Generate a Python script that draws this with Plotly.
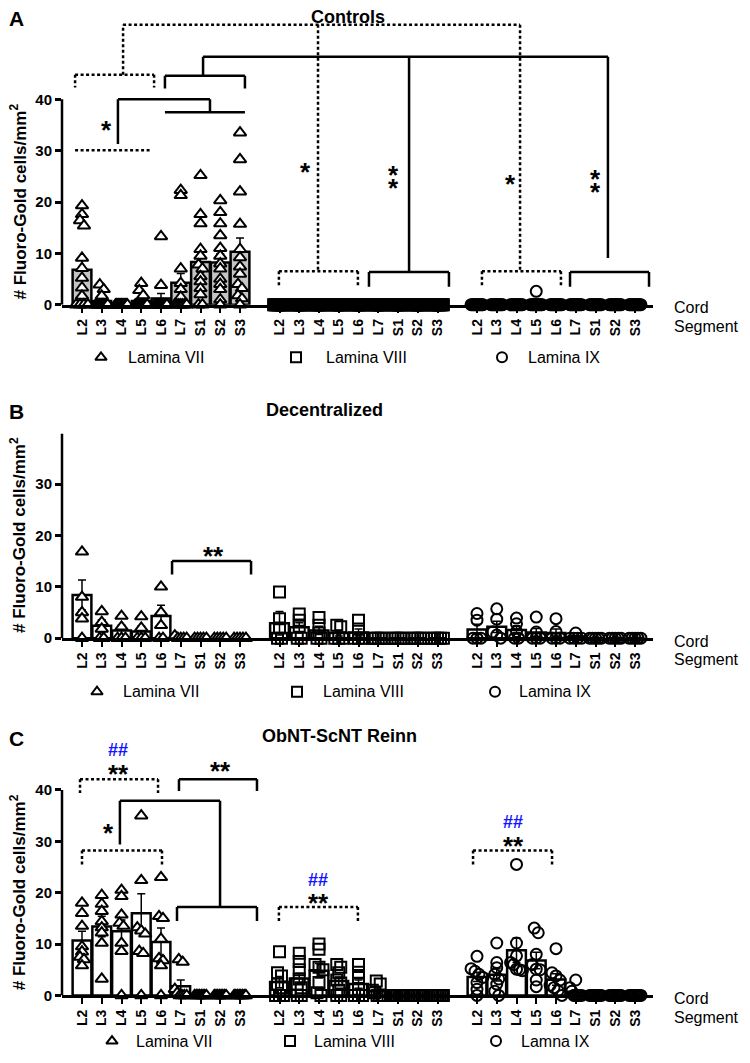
import plotly.graph_objects as go

segments = ["L2", "L3", "L4", "L5", "L6", "L7", "S1", "S2", "S3"]

# ---- Controls (n per segment; lists hold the non-zero observations) ----
ctrl_n = 13
ctrl_vii_pts = [[19.3, 17.6, 16.4, 15.4, 9.1, 7.1, 5.2, 3.3, 1.7], [3.9, 3.0, 1.7], [], [4.2, 2.8, 1.8],
                [13.3, 3.8], [22.3, 21.3, 7.0, 4.2, 3.0, 1.5],
                [25.2, 17.6, 15.8, 10.8, 9.5, 7.8, 7.0, 5.5, 4.5, 3.2, 2.0],
                [20.3, 18.0, 15.8, 13.5, 11.0, 9.5, 8.0, 7.0, 5.0, 4.0, 3.0, 1.0],
                [33.5, 28.3, 22.0, 15.7, 10.8, 9.2, 7.4, 6.0, 4.0, 3.2, 1.8, 1.2]]
ctrl_viii_pts = [[], [], [], [], [], [], [], [], []]
ctrl_ix_pts = [[], [], [], [2.6], [], [], [], [], []]
ctrl_vii_mean = [6.8, 0.7, 0.0, 0.7, 1.2, 4.3, 8.3, 8.2, 10.3]
ctrl_vii_sem = [1.9, 0.4, 0.0, 0.4, 1.0, 1.8, 2.0, 1.7, 2.7]
ctrl_viii_mean = [0, 0, 0, 0, 0, 0, 0, 0, 0]
ctrl_viii_sem = [0, 0, 0, 0, 0, 0, 0, 0, 0]
ctrl_ix_mean = [0, 0, 0, 0.2, 0, 0, 0, 0, 0]
ctrl_ix_sem = [0, 0, 0, 0.2, 0, 0, 0, 0, 0]

# ---- Decentralized ----
dec_n = 5
dec_vii_pts = [[16.8, 8.0, 5.0, 3.8], [5.2, 3.1, 1.8], [4.3, 2.2], [4.2, 2.0], [10.0, 5.0, 2.5],
               [0.5], [], [], []]
dec_viii_pts = [[9.0, 3.8, 2.0], [4.7, 3.5, 2.3], [4.0, 2.5, 1.0], [2.5, 2.2], [3.5, 1.8],
                [], [], [], []]
dec_ix_pts = [[4.8, 3.5], [5.7, 3.7, 1.2, 0.6], [3.9, 2.8, 1.3], [4.1, 1.2], [3.8, 1.3],
              [1.0], [], [], []]
dec_vii_mean = [8.4, 2.4, 1.5, 1.3, 4.3, 0.15, 0, 0, 0]
dec_vii_sem = [2.9, 1.2, 1.0, 1.0, 2.1, 0.15, 0, 0, 0]
dec_viii_mean = [2.9, 2.1, 1.5, 1.0, 1.1, 0, 0, 0, 0]
dec_viii_sem = [2.3, 0.9, 0.8, 0.6, 0.7, 0, 0, 0, 0]
dec_ix_mean = [1.7, 2.2, 1.6, 1.1, 1.0, 0.2, 0, 0, 0]
dec_ix_sem = [1.0, 1.1, 0.8, 0.8, 0.8, 0.2, 0, 0, 0]

# ---- ObNT-ScNT Reinn ----
rein_n = 8
rein_vii_pts = [[18.0, 16.0, 13.5, 9.5, 8.5, 7.5, 7.0, 5.8], [19.5, 17.8, 16.4, 14.4, 13.2, 12.2, 10.2, 3.2],
                [20.5, 19.3, 15.7, 14.1, 13.5, 10.2, 8.6], [35.0, 22.4, 13.2, 12.6, 12.0, 8.6, 8.2],
                [23.0, 15.4, 15.0, 11.0, 7.2, 6.8, 5.8], [7.0, 6.5, 1.2, 0.5], [], [], []]
rein_viii_pts = [[8.5, 4.4, 3.8, 2.2, 1.5], [8.2, 6.6, 5.0, 3.2, 2.2, 1.5],
                 [10.0, 9.0, 6.0, 5.5, 5.0, 2.5, 0.5], [6.0, 5.5, 4.4, 3.0, 2.4, 1.0],
                 [6.0, 4.5, 3.5, 2.2, 1.2], [2.8, 2.2, 1.0, 0.5], [], [], []]
rein_ix_pts = [[7.6, 5.2, 4.7, 4.1, 3.5, 2.5, 1.2], [10.2, 6.4, 5.4, 4.1, 3.2, 2.2, 0.8],
               [25.5, 10.2, 7.7, 6.4, 6.0, 5.1, 5.0, 4.8], [13.1, 12.2, 8.0, 6.0, 5.1, 5.0, 3.0, 1.7],
               [9.1, 4.4, 3.8, 3.0, 2.0, 1.5, 0.9], [3.0, 1.5, 0.8], [], [], []]
rein_vii_mean = [10.7, 13.4, 12.5, 16.0, 10.4, 1.8, 0, 0, 0]
rein_vii_sem = [1.8, 2.0, 2.2, 3.8, 2.7, 1.2, 0, 0, 0]
rein_viii_mean = [2.6, 3.3, 4.8, 2.8, 2.2, 0.8, 0, 0, 0]
rein_viii_sem = [1.1, 1.0, 1.4, 0.8, 0.8, 0.4, 0, 0, 0]
rein_ix_mean = [3.6, 4.0, 8.8, 6.8, 3.1, 0.7, 0, 0, 0]
rein_ix_sem = [0.9, 1.2, 2.4, 1.6, 1.1, 0.4, 0, 0, 0]

FONT = "Arial, Liberation Sans, sans-serif"
# triangles are white-filled, squares and circles are see-through (as in the original)
symbols = ["triangle-up", "square-open", "circle-open"]

# the page body has an 8px margin all round, so keep the figure 16px smaller
OFF = 8
W, H = 750 - 2 * OFF, 1063 - 2 * OFF


def fx(p):
    return (p - OFF) / W


def fy(p):
    return 1 - (p - OFF) / H


def spread(vals, n, centre):
    # GraphPad-like scatter: points that would overlap get spread sideways
    v = sorted(vals + [0.0] * (n - len(vals)), reverse=True)
    xs, ys = [], []
    i = 0
    while i < len(v):
        j = i
        while j + 1 < len(v) and v[j] - v[j + 1] < 1.0:
            j += 1
        k = j - i + 1
        w = min(0.2 * (k - 1), 0.6)
        for m in range(k):
            off = 0 if k == 1 else -w / 2 + w * m / (k - 1)
            xs.append(centre + off)
            ys.append(v[i + m])
        i = j + 1
    return xs, ys


panels = [
    dict(ax="", n=ctrl_n, fill=["#c4c4c4", "white", "white"],
         pts=[ctrl_vii_pts, ctrl_viii_pts, ctrl_ix_pts],
         mean=[ctrl_vii_mean, ctrl_viii_mean, ctrl_ix_mean],
         sem=[ctrl_vii_sem, ctrl_viii_sem, ctrl_ix_sem],
         zero=307, top=18, title="Controls", letter="A", tx=348, ty=17,
         legend=["Lamina VII", "Lamina VIII", "Lamina IX"], ly=360,
         lsym=[101, 296, 502], ltxt=[127, 325, 527]),
    dict(ax="2", n=dec_n, fill=["white", "white", "white"],
         pts=[dec_vii_pts, dec_viii_pts, dec_ix_pts],
         mean=[dec_vii_mean, dec_viii_mean, dec_ix_mean],
         sem=[dec_vii_sem, dec_viii_sem, dec_ix_sem],
         zero=643, top=437, title="Decentralized", letter="B", tx=324, ty=413,
         legend=["Lamina VII", "Lamina VIII", "Lamina IX"], ly=697,
         lsym=[97, 297, 495], ltxt=[122, 322, 518]),
    dict(ax="3", n=rein_n, fill=["white", "white", "white"],
         pts=[rein_vii_pts, rein_viii_pts, rein_ix_pts],
         mean=[rein_vii_mean, rein_viii_mean, rein_ix_mean],
         sem=[rein_vii_sem, rein_viii_sem, rein_ix_sem],
         zero=1003, top=750, title="ObNT-ScNT Reinn", letter="C", tx=339, ty=742,
         legend=["Lamina VII", "Lamina VIII", "Lamna IX"], ly=1049,
         lsym=[112, 290, 496], ltxt=[135, 313, 520]),
]

PX_PER_UNIT = 5.175
X0, X1 = 62, 653
XSTEP = 19.75
xr = [(X0 - 82) / XSTEP, (X1 - 82) / XSTEP]

fig = go.Figure()
layout = dict(width=W, height=H, autosize=False, margin=dict(l=0, r=0, t=0, b=0),
              plot_bgcolor="rgba(0,0,0,0)", paper_bgcolor="white", showlegend=False,
              barmode="overlay", font=dict(family=FONT, color="black"))
shapes, annots = [], []


def text(px, py, s, size, bold=False, anchor="center", color="black", angle=0):
    annots.append(dict(x=fx(px), y=fy(py), xref="paper", yref="paper",
                       text="<b>%s</b>" % s if bold else s, showarrow=False,
                       xanchor=anchor, yanchor="middle", textangle=angle, borderpad=0,
                       font=dict(size=size, family=FONT, color=color)))


tickvals, ticktext = [], []
for g in range(3):
    for i, s in enumerate(segments):
        tickvals.append(10 * g + i)
        ticktext.append(s)

for p in panels:
    xa, ya = "x" + p["ax"], "y" + p["ax"]
    yr = (p["zero"] - p["top"]) / PX_PER_UNIT
    layout["xaxis" + p["ax"]] = dict(
        domain=[fx(X0), fx(X1)], range=xr, anchor=ya, showgrid=False, zeroline=False,
        showline=True, linecolor="black", linewidth=2.5, ticks="outside", ticklen=6,
        tickwidth=2, tickcolor="black", tickvals=tickvals, ticktext=ticktext,
        tickangle=-90, tickfont=dict(size=14, family=FONT, weight="bold"))
    layout["yaxis" + p["ax"]] = dict(
        domain=[fy(p["zero"]), fy(p["top"])], range=[0, yr], anchor=xa,
        showgrid=False, zeroline=False, showline=False, ticks="outside", ticklen=6,
        tickwidth=2.5, tickcolor="black", tickvals=[0, 10, 20, 30, 40],
        tickfont=dict(size=15, family=FONT, weight="bold"))
    shapes.append(dict(type="line", xref=xa + " domain", yref=ya, x0=0, x1=0, y0=0, y1=40,
                       line=dict(color="black", width=2.5)))

    for g in range(3):
        xs = [10 * g + i for i in range(9)]
        fig.add_trace(go.Bar(
            x=xs, y=p["mean"][g], xaxis=xa, yaxis=ya, width=0.95,
            marker=dict(color=p["fill"][g], line=dict(color="black", width=2.5)),
            error_y=dict(type="data", array=p["sem"][g], color="black", thickness=1.5, width=4)))
    for g in range(3):
        px_, py_ = [], []
        for i in range(9):
            a, b = spread(p["pts"][g][i], p["n"], 10 * g + i)
            px_ += a
            py_ += b
        fig.add_trace(go.Scatter(
            x=px_, y=py_, xaxis=xa, yaxis=ya, mode="markers", cliponaxis=False,
            marker=dict(symbol=symbols[g], size=11, color="white" if g == 0 else "black",
                        line=dict(color="black", width=2))))

    # legend row under each panel, symbols drawn on a pixel overlay axis
    fig.add_trace(go.Scatter(
        x=[v - OFF for v in p["lsym"]], y=[p["ly"] - OFF] * 3, xaxis="x4", yaxis="y4",
        mode="markers", cliponaxis=False,
        marker=dict(symbol=symbols, size=10, color=["white", "black", "black"],
                    line=dict(color="black", width=2))))
    for k in range(3):
        text(p["ltxt"][k], p["ly"], p["legend"][k], 16, anchor="left")

    text(p["tx"], p["ty"], p["title"], 18, bold=True)
    text(OFF, p["ty"] + 2, p["letter"], 21, bold=True, anchor="left")
    text(18, p["zero"] - 104, "# Fluoro-Gold cells/mm<sup>2</sup>", 17, bold=True, angle=-90)
    text(673, p["zero"] + 3, "Cord", 16, anchor="left")
    text(673, p["zero"] + 22, "Segment", 16, anchor="left")

layout["xaxis4"] = dict(domain=[0, 1], range=[0, W], visible=False, anchor="y4", fixedrange=True)
layout["yaxis4"] = dict(domain=[0, 1], range=[H, 0], visible=False, anchor="x4", fixedrange=True)


def seg(ax, x0, y0, x1, y1, dot=False):
    shapes.append(dict(type="line", xref="x" + ax, yref="y" + ax, x0=x0, y0=y0, x1=x1, y1=y1,
                       line=dict(color="black", width=2.5, dash="3px,2.5px" if dot else "solid")))


def bracket(ax, x0, x1, y, drop, dot=False):
    seg(ax, x0, y, x1, y, dot)
    seg(ax, x0, y, x0, drop, dot)
    seg(ax, x1, y, x1, drop, dot)


def star(px, py, s="*", size=26):
    # asterisk glyph sits high in its line box, so push the box down
    text(px, py + 0.27 * size, s, size, bold=True)


def hashes(px, py, size=18):
    text(px, py + 0.05 * size, "##", size, bold=True, color="#1414ff")


# Controls
bracket("", -0.35, 3.65, 44.8, 42.3, True)
seg("", 2.08, 44.8, 2.08, 54.5, True)
seg("", 2.08, 54.5, 22.18, 54.5, True)
seg("", 11.95, 54.5, 11.95, 6.5, True)
bracket("", 9.97, 13.97, 6.5, 3.67, True)
seg("", 22.18, 54.5, 22.18, 6.5, True)
bracket("", 20.25, 24.25, 6.5, 3.67, True)
seg("", -0.35, 30.1, 3.44, 30.1, True)
bracket("", 4.20, 8.25, 44.6, 42.1)
seg("", 6.13, 44.6, 6.13, 48.3)
seg("", 6.13, 48.3, 26.63, 48.3)
seg("", 16.56, 48.3, 16.56, 6.38)
bracket("", 14.53, 18.58, 6.38, 3.48)
seg("", 26.63, 48.3, 26.63, 9.08)
bracket("", 24.71, 28.71, 6.38, 3.48)
seg("", 1.82, 40.0, 6.48, 40.0)
seg("", 1.82, 40.0, 1.82, 31.3)
seg("", 6.48, 40.0, 6.48, 37.5)
seg("", 4.20, 37.5, 8.25, 37.5)
star(106, 124)
star(305, 166)
star(393, 169)
star(393, 182)
star(510, 178)
star(595, 173)
star(595, 186)

# Decentralized
bracket("2", 4.56, 8.56, 15.0, 12.4)
star(213, 553, "**")

# ObNT-ScNT Reinn
bracket("3", -0.1, 3.85, 42.1, 39.4, True)
bracket("3", 4.91, 8.86, 42.1, 39.8)
seg("3", 1.92, 37.9, 6.99, 37.9)
seg("3", 1.92, 37.9, 1.92, 29.4)
seg("3", 6.99, 37.9, 6.99, 17.2)
bracket("3", 4.81, 8.86, 17.2, 14.5)
bracket("3", 0.0, 4.05, 28.2, 25.5, True)
bracket("3", 9.97, 13.97, 17.2, 14.5, True)
bracket("3", 19.8, 23.8, 28.2, 25.5, True)
hashes(118, 755)
star(118, 773, "**")
star(220, 770, "**")
star(108, 832)
hashes(318, 886)
star(318, 903, "**")
hashes(513, 827)
star(513, 845, "**")

layout["shapes"] = shapes
layout["annotations"] = annots
fig.update_layout(**layout)
fig.write_html("out.html")
